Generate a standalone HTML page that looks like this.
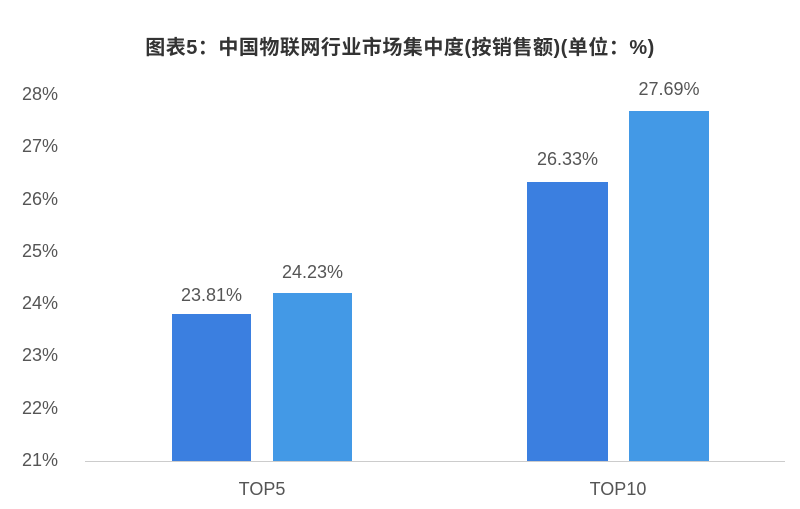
<!DOCTYPE html>
<html><head><meta charset="utf-8"><style>
body{margin:0;background:#fff;width:800px;height:509px;overflow:hidden;font-family:"Liberation Sans","Noto Sans CJK SC",sans-serif;}
.t{position:absolute;color:#555;font-size:18px;}
</style></head><body>
<div style="position:absolute;left:0;width:800px;top:31px;text-align:center;font-weight:bold;font-size:20px;color:#333;letter-spacing:0.5px;">图表5：中国物联网行业市场集中度(按销售额)(单位：%)</div>
<div class="t" style="left:22px;top:84px">28%</div>
<div class="t" style="left:22px;top:136px">27%</div>
<div class="t" style="left:22px;top:189px">26%</div>
<div class="t" style="left:22px;top:241px">25%</div>
<div class="t" style="left:22px;top:293px">24%</div>
<div class="t" style="left:22px;top:345px">23%</div>
<div class="t" style="left:22px;top:398px">22%</div>
<div class="t" style="left:22px;top:450px">21%</div>
<div style="position:absolute;left:85px;top:461px;width:700px;height:1px;background:#ccc"></div>
<div style="position:absolute;left:172px;top:314px;width:79px;height:147px;background:#3b7fe0"></div>
<div style="position:absolute;left:273px;top:293px;width:79px;height:168px;background:#4399e6"></div>
<div style="position:absolute;left:527px;top:182px;width:81px;height:279px;background:#3b7fe0"></div>
<div style="position:absolute;left:629px;top:111px;width:80px;height:350px;background:#4399e6"></div>
<div class="t" style="left:162px;width:99px;text-align:center;top:285px">23.81%</div>
<div class="t" style="left:263px;width:99px;text-align:center;top:262px">24.23%</div>
<div class="t" style="left:517px;width:101px;text-align:center;top:149px">26.33%</div>
<div class="t" style="left:619px;width:100px;text-align:center;top:79px">27.69%</div>
<div class="t" style="left:212px;width:100px;text-align:center;top:479px">TOP5</div>
<div class="t" style="left:568px;width:100px;text-align:center;top:479px">TOP10</div>
</body></html>
